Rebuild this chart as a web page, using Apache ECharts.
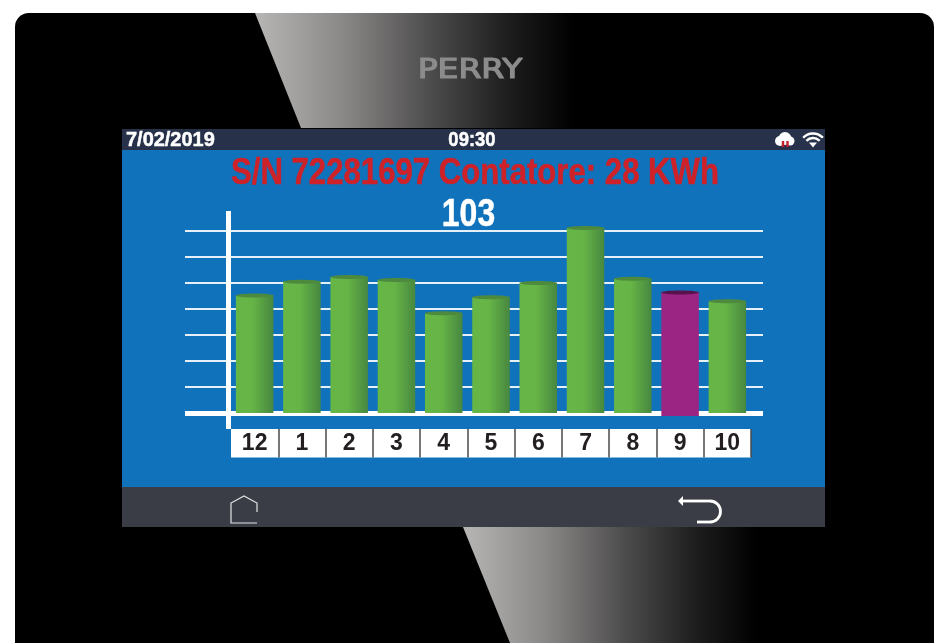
<!DOCTYPE html>
<html>
<head>
<meta charset="utf-8">
<style>
  html, body { margin: 0; padding: 0; background: #fff; }
  #main { width: 947px; height: 643px; }
</style>
<script src="https://cdn.jsdelivr.net/npm/echarts@6/dist/echarts.min.js"></script>
</head>
<body>
<div id="main"></div>
<script>
const months = ['12', '1', '2', '3', '4', '5', '6', '7', '8', '9', '10'];
const values = [99.5, 111, 115, 112.5, 84.5, 98, 110, 156.5, 113.5, 102, 94.5];
const selectedMonth = '9';
const selectedValue = '103';
const dateText = '7/02/2019';
const timeText = '09:30';
const titleText = 'S/N 72281697 Contatore: 28 KWh';

const sans = '"Liberation Sans", Arial, sans-serif';
const chart = echarts.init(document.getElementById('main'), null, { renderer: 'canvas' });

function cylinder(params, api) {
  const i = api.value(0);
  const top = api.coord([i, api.value(1)]);
  const base = api.coord([i, 0]);
  const hot = months[i] === selectedMonth;
  const w = 37.5;
  const bottom = base[1] + (hot ? 3 : 0);
  const body = hot ? '#9b2583' : new echarts.graphic.LinearGradient(0, 0, 1, 0, [
    { offset: 0, color: '#66b646' },
    { offset: 0.45, color: '#66b446' },
    { offset: 1, color: '#478740' },
  ]);
  return {
    type: 'group',
    children: [
      {
        type: 'rect',
        shape: { x: top[0] - w / 2, y: top[1], width: w, height: bottom - top[1] },
        style: { fill: body },
      },
      {
        type: 'ellipse',
        shape: { cx: top[0], cy: top[1], rx: w / 2, ry: 2 },
        style: { fill: hot ? '#57124c' : '#4d8a3e' },
      },
    ],
  };
}

function wedge(points) {
  return {
    type: 'polygon', z: -19, silent: true,
    shape: { points: points },
    style: {
      fill: new echarts.graphic.LinearGradient(0, 0, 1, 0, [
        { offset: 0, color: '#b8b6b5' },
        { offset: 0.25, color: '#8a8887' },
        { offset: 0.5, color: '#4c4b4b' },
        { offset: 0.72, color: '#1c1c1c' },
        { offset: 0.9, color: '#000' },
      ]),
    },
  };
}

function screenText(text, x, y, size, fill, scaleX, align) {
  return {
    type: 'text', z: 10, x: x, y: y, scaleX: scaleX,
    style: {
      text: text, fill: fill, stroke: fill, lineWidth: 0.5,
      font: 'bold ' + size + 'px ' + sans,
      textAlign: align, textVerticalAlign: 'middle',
    },
  };
}

chart.setOption({
  animation: false,
  grid: [
    { left: 185, width: 578, top: 205, height: 208 },
    { left: 231, width: 520, top: 205, height: 208 },
    { left: 228.5, width: 10, top: 211, height: 218 },
    { left: 231, width: 520, top: 429, height: 28.5, show: true, backgroundColor: '#fff', borderWidth: 0 },
  ],
  xAxis: [
    {
      gridIndex: 0, type: 'value', min: 0, max: 1,
      axisLine: { show: true, onZero: false, lineStyle: { color: '#fff', width: 5, cap: 'butt' } },
      axisTick: { show: false }, axisLabel: { show: false }, splitLine: { show: false },
    },
    { gridIndex: 1, type: 'category', data: months, show: false },
    { gridIndex: 2, type: 'value', min: 0, max: 1, show: false },
    {
      gridIndex: 3, type: 'category', data: months,
      axisLine: { show: false },
      axisTick: { show: false },
      axisLabel: {
        interval: 0, inside: true, margin: 2,
        color: '#231f20', fontFamily: sans, fontWeight: 'bold', fontSize: 23,
      },
      splitLine: {
        show: true, interval: 0, showMinLine: false,
        lineStyle: { color: '#4a4a4a', width: 1.5 },
      },
    },
  ],
  yAxis: [
    {
      gridIndex: 0, type: 'value', min: 0, max: 176, interval: 22,
      axisLine: { show: false }, axisTick: { show: false }, axisLabel: { show: false },
      splitLine: {
        show: true, showMinLine: false, showMaxLine: false,
        lineStyle: { color: '#e6f0f8', width: 2 },
      },
    },
    { gridIndex: 1, type: 'value', min: 0, max: 176, interval: 22, show: false },
    {
      gridIndex: 2, type: 'value', min: 0, max: 1,
      axisLine: { show: true, lineStyle: { color: '#fff', width: 5, cap: 'butt' } },
      axisTick: { show: false }, axisLabel: { show: false }, splitLine: { show: false },
    },
    { gridIndex: 3, type: 'value', min: 0, max: 1, show: false },
  ],
  series: [
    {
      type: 'custom',
      xAxisIndex: 1,
      yAxisIndex: 1,
      z: 5,
      renderItem: cylinder,
      encode: { x: 0, y: 1 },
      data: values.map((v, i) => [i, v]),
    },
  ],
  graphic: [
    // device body
    { type: 'rect', z: -20, silent: true, shape: { x: 15, y: 13, width: 919, height: 660, r: 14 }, style: { fill: '#000' } },
    wedge([[255, 13], [610, 13], [610, 128], [301, 128]]),
    wedge([[463, 527], [790, 527], [790, 643], [510, 643]]),
    {
      type: 'text', z: -18, silent: true, x: 470, y: 71, scaleX: 1.27,
      style: {
        text: 'PERRY', fill: '#8c8c8c', stroke: '#8c8c8c', lineWidth: 1.2,
        font: '26px "DejaVu Sans"', textAlign: 'center', textVerticalAlign: 'middle',
      },
    },
    // screen panels
    { type: 'rect', z: -15, silent: true, shape: { x: 122, y: 129, width: 703, height: 21 }, style: { fill: '#27324a' } },
    { type: 'rect', z: -15, silent: true, shape: { x: 122, y: 150, width: 703, height: 337 }, style: { fill: '#0f72bb' } },
    { type: 'rect', z: -15, silent: true, shape: { x: 122, y: 487, width: 703, height: 40 }, style: { fill: '#3a3d46' } },
    // texts
    screenText(dateText, 126, 140, 21, '#fff', 0.95, 'left'),
    screenText(timeText, 472, 140, 21, '#fff', 0.88, 'center'),
    screenText(titleText, 475, 174, 36, '#cf2128', 0.865, 'center'),
    screenText(selectedValue, 468.5, 216, 38, '#fff', 0.84, 'center'),
    // cloud icon
    { type: 'circle', z: 10, shape: { cx: 780, cy: 141, r: 5 }, style: { fill: '#fff' } },
    { type: 'circle', z: 10, shape: { cx: 785, cy: 138.5, r: 6.5 }, style: { fill: '#fff' } },
    { type: 'circle', z: 10, shape: { cx: 790, cy: 141, r: 4.5 }, style: { fill: '#fff' } },
    { type: 'polyline', z: 11, shape: { points: [[783, 141], [783, 147]] }, style: { stroke: '#c8202a', lineWidth: 2.4, fill: null } },
    { type: 'polyline', z: 11, shape: { points: [[787.5, 141], [787.5, 147]] }, style: { stroke: '#c8202a', lineWidth: 2.4, fill: null } },
    // wifi icon
    { type: 'arc', z: 10, shape: { cx: 813, cy: 147, r: 13.5, startAngle: -Math.PI * 0.76, endAngle: -Math.PI * 0.24 }, style: { stroke: '#fff', lineWidth: 2.4, fill: null } },
    { type: 'arc', z: 10, shape: { cx: 813, cy: 147, r: 9, startAngle: -Math.PI * 0.76, endAngle: -Math.PI * 0.24 }, style: { stroke: '#fff', lineWidth: 2.4, fill: null } },
    { type: 'polygon', z: 10, shape: { points: [[809, 142.5], [817, 142.5], [813, 147.5]] }, style: { fill: '#fff' } },
    // home icon
    {
      type: 'polyline', z: 10,
      shape: { points: [[257, 512], [257, 503], [244, 496], [231, 503], [231, 523], [257, 523]] },
      style: { stroke: '#e4e4e6', lineWidth: 1.2, fill: null },
    },
    // back icon
    {
      type: 'polyline', z: 10,
      shape: { points: [[683, 501], [710, 501]] },
      style: { stroke: '#fff', lineWidth: 2.8, fill: null },
    },
    {
      type: 'arc', z: 10,
      shape: { cx: 710, cy: 511.5, r: 10.5, startAngle: -Math.PI / 2, endAngle: Math.PI / 2 },
      style: { stroke: '#fff', lineWidth: 2.8, fill: null },
    },
    {
      type: 'polyline', z: 10,
      shape: { points: [[710, 522], [697, 522]] },
      style: { stroke: '#fff', lineWidth: 2.8, fill: null },
    },
    {
      type: 'polygon', z: 10,
      shape: { points: [[678, 501], [683, 496], [683, 506]] },
      style: { fill: '#fff' },
    },
  ],
});
</script>
</body>
</html>
